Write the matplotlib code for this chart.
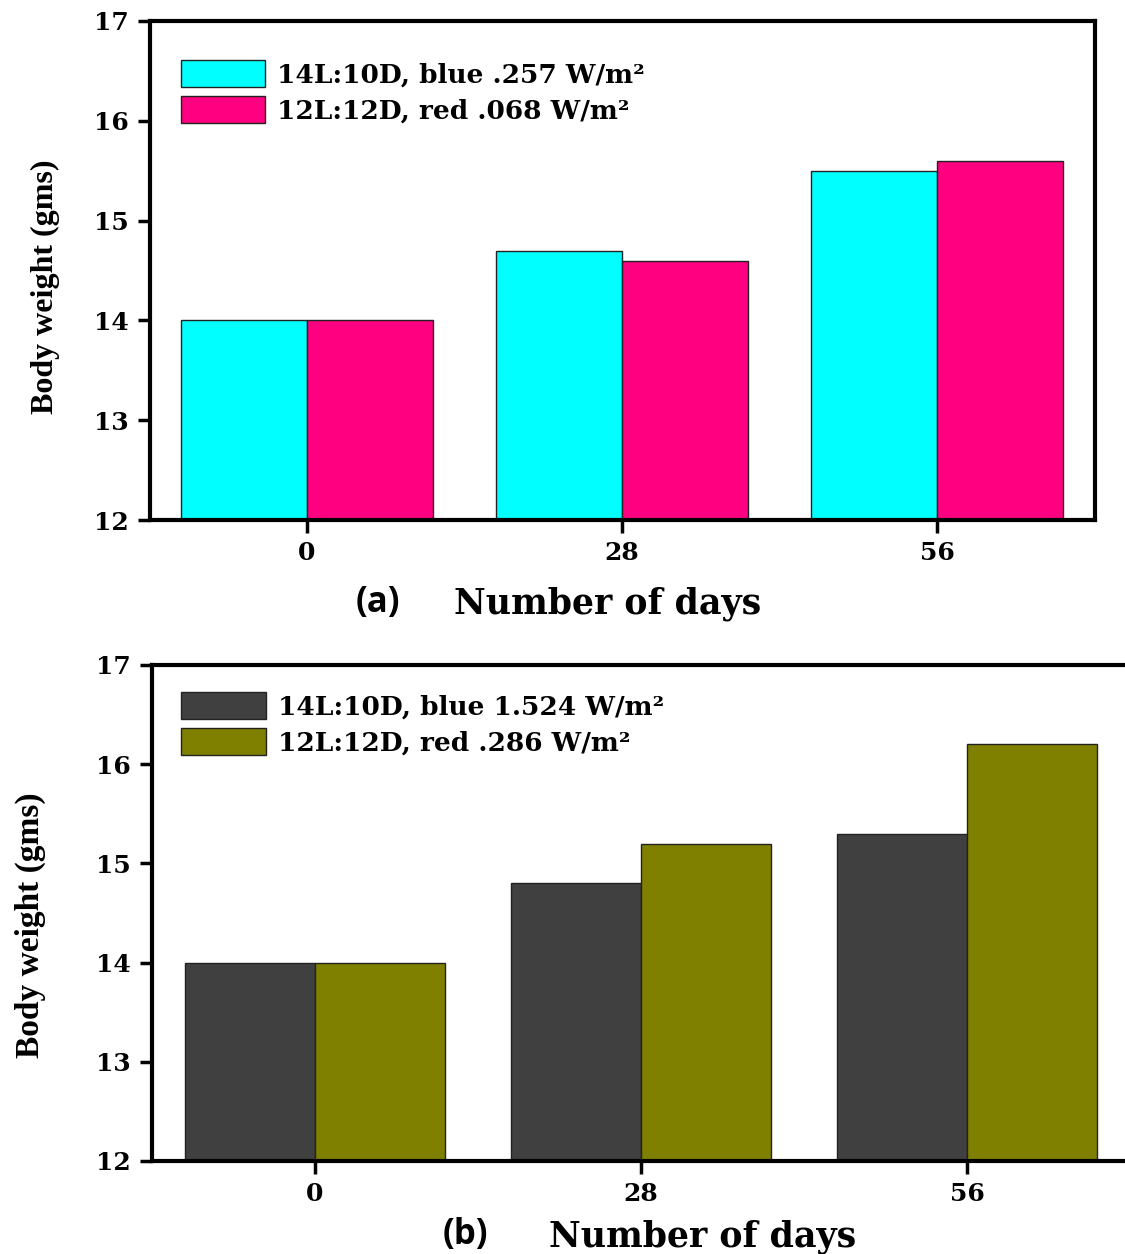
import numpy as np
import matplotlib
matplotlib.use("Agg")
from matplotlib import pyplot as plt
from matplotlib.patches import Patch

days = ["0", "28", "56"]

# panel (a)
labels_a = ["14L:10D, blue .257 W/m\u00b2", "12L:12D, red .068 W/m\u00b2"]
blue_a = [14.0, 14.7, 15.5]
red_a = [14.0, 14.6, 15.6]
colors_a = ["#00FFFF", "#FF0080"]

# panel (b)
labels_b = ["14L:10D, blue 1.524 W/m\u00b2", "12L:12D, red .286 W/m\u00b2"]
blue_b = [14.0, 14.8, 15.3]
red_b = [14.0, 15.2, 16.2]
colors_b = ["#404040", "#808000"]

SERIF = ['DejaVu Serif']
plt.rcParams['font.family'] = SERIF
plt.rcParams['font.weight'] = 'bold'

fig = plt.figure(figsize=(11.25, 12.54), dpi=100)
W, H = 1125, 1254


def axes_px(left, top, right, bottom):
    return fig.add_axes([left / W, 1 - bottom / H, (right - left) / W, (bottom - top) / H])


def draw_panel(ax, s1, s2, cols, labels, legend_xy, right_spine=True):
    x = np.arange(len(days))
    w = 0.4
    # bars start at the bottom of the axis (12)
    ax.bar(x - w / 2, np.array(s1) - 12, w, bottom=12, color=cols[0], edgecolor="#222222", linewidth=1)
    ax.bar(x + w / 2, np.array(s2) - 12, w, bottom=12, color=cols[1], edgecolor="#222222", linewidth=1)
    ax.set_ylim(12, 17)
    ax.set_xlim(-0.5, 2.5)
    ax.set_xticks(x)
    ax.set_xticklabels(days)
    ax.set_yticks([12, 13, 14, 15, 16, 17])
    ax.tick_params(direction="out", length=9, width=2.5, labelsize=18, pad=6)
    for lab in ax.get_xticklabels() + ax.get_yticklabels():
        lab.set_fontweight("bold")
    for sp in ax.spines.values():
        sp.set_linewidth(3)
    if not right_spine:
        ax.spines["right"].set_visible(False)
    handles = [Patch(facecolor=cols[i], edgecolor="#222222", linewidth=1) for i in range(2)]
    ax.legend(handles, labels, loc="upper left", bbox_to_anchor=legend_xy, frameon=False,
              prop={"family": SERIF, "weight": "bold", "size": 19},
              handlelength=3.2, handleheight=1.2, labelspacing=0.34, handletextpad=0.45,
              borderpad=0, borderaxespad=0)


ax1 = axes_px(149.5, 21, 1094.5, 520)
draw_panel(ax1, blue_a, red_a, colors_a, labels_a, (0.033, 0.922))

ax2 = axes_px(152, 665, 1130, 1161)
draw_panel(ax2, blue_b, red_b, colors_b, labels_b, (0.03, 0.946), right_spine=False)

fig.text(45 / W, 1 - 287 / H, "Body weight (gms)", rotation=90, ha="center", va="center",
         fontsize=23, fontweight="bold", family="Liberation Serif")
fig.text(30 / W, 1 - 925 / H, "Body weight (gms)", rotation=90, ha="center", va="center",
         fontsize=24, fontweight="bold", family="Liberation Serif")

fig.text(608 / W, 1 - 604 / H, "Number of days", ha="center", va="center",
         fontsize=25, fontweight="bold")
fig.text(703 / W, 1 - 1237 / H, "Number of days", ha="center", va="center",
         fontsize=25, fontweight="bold")
fig.text(378 / W, 1 - 603 / H, "(a)", ha="center", va="center",
         fontsize=25, fontweight="bold", family="Open Sans")
fig.text(465 / W, 1 - 1235 / H, "(b)", ha="center", va="center",
         fontsize=25, fontweight="bold", family="Open Sans")

fig.savefig("out.png", dpi=100)
